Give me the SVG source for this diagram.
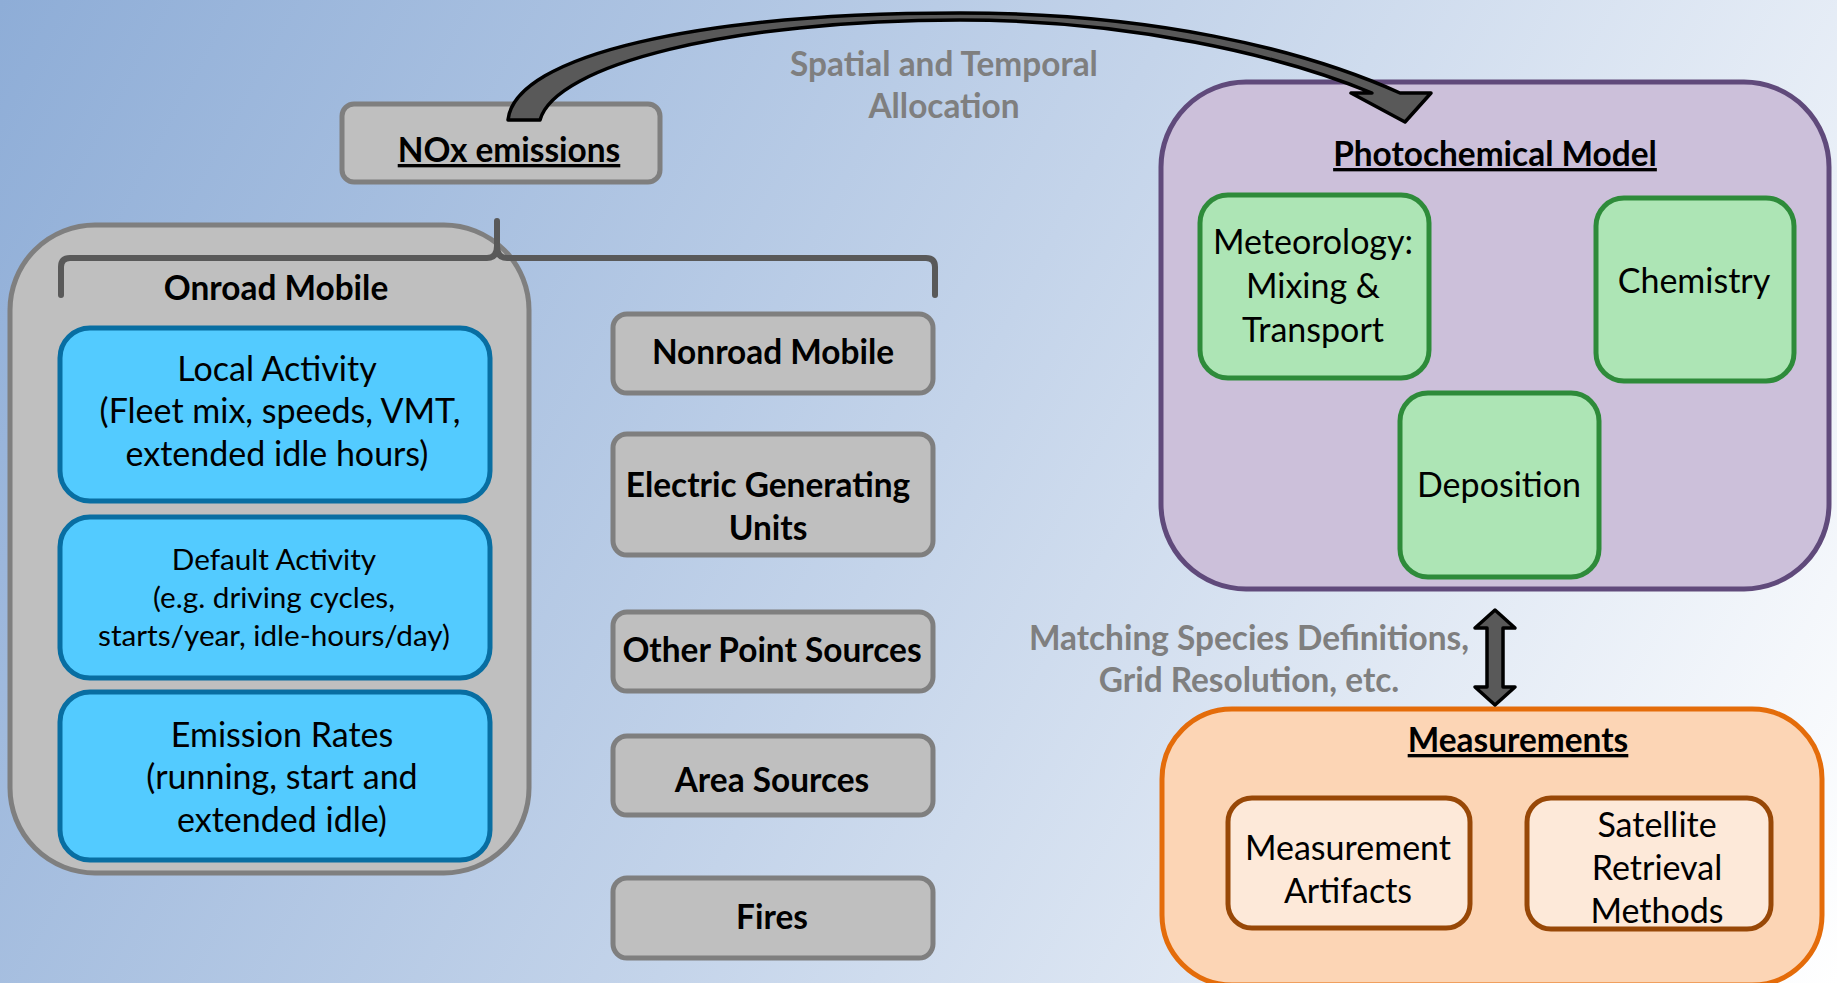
<svg xmlns="http://www.w3.org/2000/svg" width="1837" height="983" viewBox="0 0 1837 983">
<defs>
<linearGradient id="bg" x1="0" y1="0" x2="1837" y2="983" gradientUnits="userSpaceOnUse">
<stop offset="0" stop-color="#8eadd7"/>
<stop offset="0.5" stop-color="#c4d4ea"/>
<stop offset="1" stop-color="#ffffff"/>
</linearGradient>
</defs>
<style>
text{font-family:Lato,"Open Sans","Liberation Sans",sans-serif;text-anchor:middle;fill:#000;font-size:34px}
.b{font-weight:bold;font-size:33.4px}
.u{text-decoration:underline}
.g{fill:#7f7f7f;font-weight:bold;font-size:33.4px}
.gray{fill:#bfbfbf;stroke:#7f7f7f;stroke-width:5}
.blue{fill:#53cbff;stroke:#086ea2;stroke-width:5}
.green{fill:#ade5b5;stroke:#2e8b3a;stroke-width:5}
.pale{fill:#fde9d9;stroke:#984807;stroke-width:5}
.arrow{fill:#595959;stroke:#000;stroke-width:3.5;stroke-linejoin:round}
.t26{font-size:29.7px}
</style>
<rect x="0" y="0" width="1837" height="983" fill="url(#bg)"/>

<g id="onroad">
<rect x="10" y="225" width="519" height="648" rx="85" class="gray"/>
<text x="276" y="300" class="b">Onroad Mobile</text>
</g>
<g id="local-activity">
<rect x="60" y="328" width="430" height="173" rx="30" class="blue"/>
<text x="277" y="381">Local Activity</text>
<text x="280" y="423">(Fleet mix, speeds, VMT,</text>
<text x="277" y="466">extended idle hours)</text>
</g>
<g id="default-activity">
<rect x="60" y="517" width="430" height="161" rx="30" class="blue"/>
<text x="274" y="570" class="t26">Default Activity</text>
<text x="274" y="608" class="t26">(e.g. driving cycles,</text>
<text x="274" y="646" class="t26">starts/year, idle-hours/day)</text>
</g>
<g id="emission-rates">
<rect x="60" y="692" width="430" height="168" rx="30" class="blue"/>
<text x="282" y="747">Emission Rates</text>
<text x="282" y="789">(running, start and</text>
<text x="282" y="832">extended idle)</text>
</g>

<g id="nox">
<rect x="342" y="104" width="318" height="78" rx="12" class="gray"/>
<text x="509" y="162" class="b u">NOx emissions</text>
</g>
<g id="nonroad">
<rect x="613" y="314" width="320" height="79" rx="14" class="gray"/>
<text x="773" y="364" class="b">Nonroad Mobile</text>
</g>
<g id="egu">
<rect x="613" y="434" width="320" height="121" rx="14" class="gray"/>
<text x="768" y="497" class="b">Electric Generating</text>
<text x="768" y="540" class="b">Units</text>
</g>
<g id="other-point">
<rect x="613" y="612" width="320" height="79" rx="14" class="gray"/>
<text x="772" y="662" class="b">Other Point Sources</text>
</g>
<g id="area">
<rect x="613" y="736" width="320" height="79" rx="14" class="gray"/>
<text x="772" y="792" class="b">Area Sources</text>
</g>
<g id="fires">
<rect x="613" y="878" width="320" height="80" rx="14" class="gray"/>
<text x="772" y="929" class="b">Fires</text>
</g>

<g id="photochemical">
<rect x="1161" y="82" width="668" height="507" rx="85" fill="#ccc0da" stroke="#604a7b" stroke-width="5"/>
<text x="1495" y="166" class="b u">Photochemical Model</text>
</g>
<g id="meteorology">
<rect x="1200" y="195" width="229" height="183" rx="28" class="green"/>
<text x="1313" y="254">Meteorology:</text>
<text x="1313" y="298">Mixing &amp;</text>
<text x="1313" y="342">Transport</text>
</g>
<g id="chemistry">
<rect x="1596" y="198" width="198" height="183" rx="28" class="green"/>
<text x="1694" y="293">Chemistry</text>
</g>
<g id="deposition">
<rect x="1400" y="393" width="199" height="184" rx="28" class="green"/>
<text x="1499" y="497">Deposition</text>
</g>

<g id="measurements">
<rect x="1162" y="709" width="660" height="276" rx="70" fill="#fcd5b5" stroke="#e46c0a" stroke-width="5"/>
<text x="1518" y="752" class="b u">Measurements</text>
</g>
<g id="artifacts">
<rect x="1228" y="798" width="242" height="130" rx="24" class="pale"/>
<text x="1348" y="860">Measurement</text>
<text x="1348" y="903">Artifacts</text>
</g>
<g id="satellite">
<rect x="1527" y="798" width="244" height="131" rx="24" class="pale"/>
<text x="1657" y="837">Satellite</text>
<text x="1657" y="880">Retrieval</text>
<text x="1657" y="923">Methods</text>
</g>

<g id="connectors">
<path d="M61,295 V267 Q61,258 70,258 H487 Q497,258 497,246 V221 M497,246 Q497,258 507,258 H926 Q935,258 935,267 V295" fill="none" stroke="#595959" stroke-width="6" stroke-linecap="round" stroke-linejoin="round"/>
<path class="arrow" d="M508,120 C515,55 700,13 960,13 C1150,13 1300,48 1400,93 L1431,93 L1405,122 L1351,93 L1372,93 C1280,55 1130,20 960,20 C730,20 555,65 540,120 Z"/>
<path class="arrow" d="M1495,610 L1515,628 L1503,628 L1503,687 L1515,687 L1495,705 L1475,687 L1487,687 L1487,628 L1475,628 Z"/>
<text x="944" y="76" class="g">Spatial and Temporal</text>
<text x="944" y="118" class="g">Allocation</text>
<text x="1249" y="650" class="g">Matching Species Definitions,</text>
<text x="1249" y="692" class="g">Grid Resolution, etc.</text>
</g>
</svg>
